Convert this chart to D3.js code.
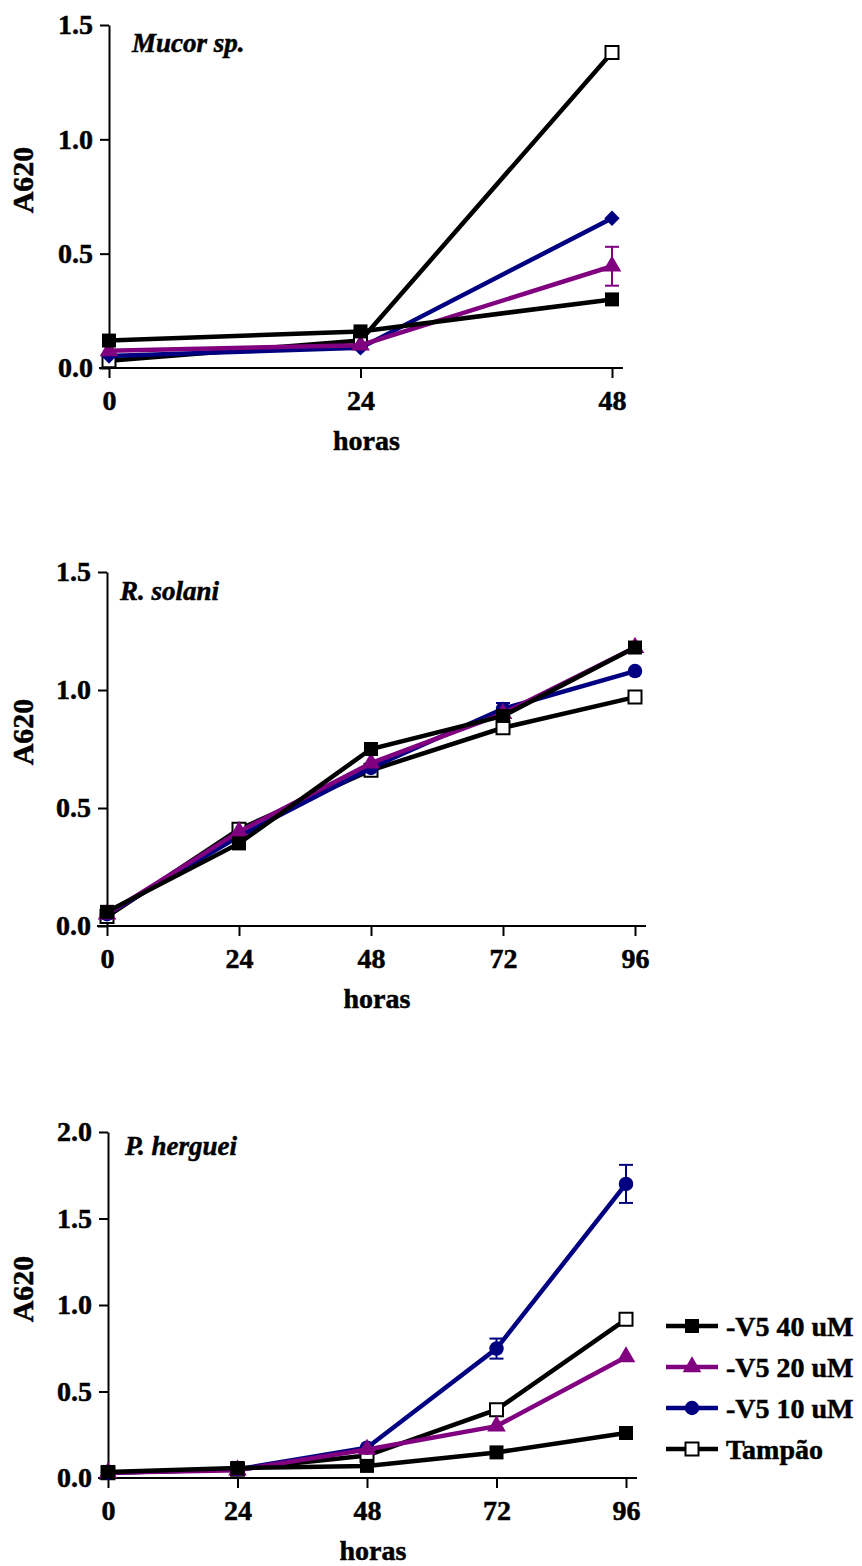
<!DOCTYPE html>
<html>

<head>
    <meta charset="utf-8">
    <title></title>
    <script src="https://d3js.org/d3.v7.min.js"></script>
    <style>
        html,
        body {
            margin: 0;
            padding: 0;
            background: #fff;
        }

        text {
            font-family: 'Liberation Serif', 'Times New Roman', serif;
            font-weight: bold;
            stroke: #000;
            stroke-width: 0.5px;
        }
    </style>
</head>

<body>

    <div id="chart"></div>

    <script>
        // Series (legend order)
        const seriesNames = ["-V5 40 uM", "-V5 20 uM", "-V5 10 uM", "Tampão"];
        const seriesColors = ["#000000", "#800080", "#000080", "#000000"];

        // Time points (hours)
        const hoursMucor = [0, 24, 48];
        const hoursLong = [0, 24, 48, 72, 96];

        // Tick labels
        const yTicks15 = [0, 0.5, 1.0, 1.5];
        const yTicks20 = [0, 0.5, 1.0, 1.5, 2.0];

        // Mucor sp. (A620)
        const mucor40 = [0.12, 0.16, 0.30];
        const mucor20 = [0.075, 0.10, 0.445];
        const mucor10 = [0.052, 0.088, 0.655];
        const mucorTampao = [0.032, 0.12, 1.38];
        const mucor20Err = [0, 0, 0.085];

        // R. solani (A620)
        const solani40 = [0.06, 0.35, 0.75, 0.89, 1.18];
        const solani20 = [0.05, 0.40, 0.69, 0.90, 1.18];
        const solani10 = [0.05, 0.38, 0.67, 0.92, 1.08];
        const solaniTampao = [0.04, 0.41, 0.66, 0.84, 0.97];
        const solani10Err = [0, 0, 0, 0.025, 0];

        // P. herguei (A620)
        const herguei40 = [0.035, 0.058, 0.07, 0.148, 0.26];
        const herguei20 = [0.03, 0.045, 0.165, 0.30, 0.70];
        const herguei10 = [0.03, 0.05, 0.175, 0.748, 1.70];
        const hergueiTampao = [0.03, 0.05, 0.13, 0.395, 0.917];
        const herguei10Err = [0, 0, 0, 0.058, 0.11];

        var svg = d3.select("#chart")
            .append("svg")
            .attr("width", 862)
            .attr("height", 1566);

        // panel layout
        const panels = [
            {
                title: "Mucor sp.", hours: hoursMucor, yMax: 1.5, yTicks: yTicks15,
                xr: [109, 612], yr: [368, 25], titleX: 132, titleY: 52, yLabelY: 180,
                series: [mucor40, mucor20, mucor10, mucorTampao],
                errs: [null, mucor20Err, null, null],
                shapes: ["square", "triangle", "diamond", "open"]
            },
            {
                title: "R. solani", hours: hoursLong, yMax: 1.5, yTicks: yTicks15,
                xr: [107, 635], yr: [926, 572], titleX: 120, titleY: 600, yLabelY: 732,
                series: [solani40, solani20, solani10, solaniTampao],
                errs: [null, null, solani10Err, null],
                shapes: ["square", "triangle", "circle", "open"]
            },
            {
                title: "P. herguei", hours: hoursLong, yMax: 2.0, yTicks: yTicks20,
                xr: [108, 626], yr: [1478, 1132], titleX: 125, titleY: 1155, yLabelY: 1289,
                series: [herguei40, herguei20, herguei10, hergueiTampao],
                errs: [null, null, herguei10Err, null],
                shapes: ["square", "triangle", "circle", "open"]
            }
        ];

        const symbolFor = {
            square: d3.symbol(d3.symbolSquare, 196),
            open: d3.symbol(d3.symbolSquare, 169),
            triangle: d3.symbol(d3.symbolTriangle, 150),
            circle: d3.symbol(d3.symbolCircle, 165),
            diamond: d3.symbol(d3.symbolDiamond2, 150)
        };

        function drawMarker(g, shape, color, x, y) {
            g.append("path")
                .attr("d", symbolFor[shape]())
                .attr("transform", `translate(${x},${y})`)
                .attr("fill", shape === "open" ? "#fff" : color)
                .attr("stroke", color)
                .attr("stroke-width", shape === "open" ? 2 : 0);
        }

        panels.forEach(p => {
            const x = d3.scaleLinear().domain([0, d3.max(p.hours)]).range(p.xr);
            const y = d3.scaleLinear().domain([0, p.yMax]).range(p.yr);
            const g = svg.append("g");

            // X axis
            const xAxis = g.append("g")
                .attr("transform", `translate(0,${p.yr[0]})`)
                .call(d3.axisBottom(x).tickValues(p.hours).tickSize(10).tickPadding(12).tickSizeOuter(0));
            xAxis.select(".domain").remove();
            xAxis.append("line")
                .attr("x1", p.xr[0] - 10).attr("x2", p.xr[1] + 11)
                .attr("stroke", "#000").attr("stroke-width", 2);
            xAxis.selectAll(".tick line").attr("stroke-width", 2);
            xAxis.selectAll(".tick text").style("font-size", "28px").attr("fill", "#000");

            // Y axis
            const yAxis = g.append("g")
                .attr("transform", `translate(${p.xr[0]},0)`)
                .call(d3.axisLeft(y).tickValues(p.yTicks).tickFormat(d3.format(".1f"))
                    .tickSize(9).tickPadding(7).tickSizeOuter(0));
            yAxis.select(".domain").attr("stroke-width", 2);
            yAxis.selectAll(".tick line").attr("stroke-width", 2);
            yAxis.selectAll(".tick text").style("font-size", "28px").attr("fill", "#000");

            // axis titles
            g.append("text")
                .attr("x", (p.xr[0] + p.xr[1]) / 2 + 6)
                .attr("y", p.yr[0] + 82)
                .attr("text-anchor", "middle")
                .style("font-size", "28px")
                .text("horas");

            g.append("text")
                .attr("transform", `translate(33,${p.yLabelY}) rotate(-90)`)
                .attr("text-anchor", "middle")
                .style("font-size", "30px")
                .text("A620");

            g.append("text")
                .attr("x", p.titleX)
                .attr("y", p.titleY)
                .style("font-size", "27px")
                .style("font-style", "italic")
                .text(p.title);

            // series, drawn from last to first so -V5 40 uM is on top
            const line = d3.line().x((d, i) => x(p.hours[i])).y(d => y(d));
            for (let s = p.series.length - 1; s >= 0; s--) {
                const vals = p.series[s];
                const color = seriesColors[s];
                g.append("path")
                    .datum(vals)
                    .attr("d", line)
                    .attr("fill", "none")
                    .attr("stroke", color)
                    .attr("stroke-width", 4.5);

                if (p.errs[s]) {
                    p.errs[s].forEach((e, i) => {
                        if (!e) return;
                        const cx = x(p.hours[i]);
                        const eg = g.append("g").attr("stroke", color).attr("stroke-width", 2);
                        eg.append("line").attr("x1", cx).attr("x2", cx)
                            .attr("y1", y(vals[i] + e)).attr("y2", y(vals[i] - e));
                        eg.append("line").attr("x1", cx - 7).attr("x2", cx + 7)
                            .attr("y1", y(vals[i] + e)).attr("y2", y(vals[i] + e));
                        eg.append("line").attr("x1", cx - 7).attr("x2", cx + 7)
                            .attr("y1", y(vals[i] - e)).attr("y2", y(vals[i] - e));
                    });
                }

                vals.forEach((v, i) => drawMarker(g, p.shapes[s], color, x(p.hours[i]), y(v)));
            }
        });

        // Legend (bottom panel)
        const legend = svg.append("g").attr("transform", "translate(666,1326)");
        const legendShapes = ["square", "triangle", "circle", "open"];
        seriesNames.forEach((name, i) => {
            const row = legend.append("g").attr("transform", `translate(0,${i * 41})`);
            row.append("line")
                .attr("x1", 0).attr("x2", 52)
                .attr("stroke", seriesColors[i])
                .attr("stroke-width", 4.5);
            drawMarker(row, legendShapes[i], seriesColors[i], 26, 0);
            row.append("text")
                .attr("x", 60)
                .attr("y", 0)
                .attr("dy", "0.35em")
                .style("font-size", "28px")
                .text(name);
        });
    </script>
</body>

</html>
